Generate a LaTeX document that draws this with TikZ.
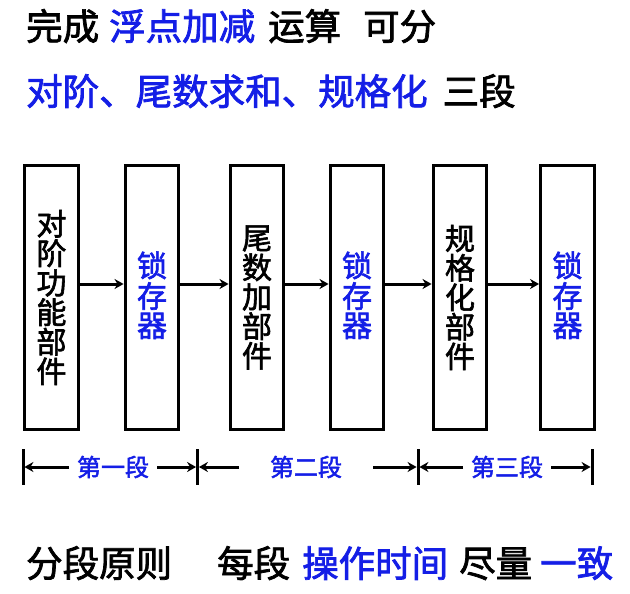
\documentclass[tikz,border=0pt]{standalone}
\usepackage{fontspec}
\setmainfont{Noto Sans CJK SC}[FakeBold=2]
\usetikzlibrary{arrows.meta}
\definecolor{pptblue}{RGB}{20,30,230}
\newcommand{\fs}[1]{\fontsize{#1}{#1}\selectfont}

\begin{document}
\begin{tikzpicture}
  [x=1pt,y=-1pt,
   unit/.style={draw,line width=3.4pt,minimum width=53.5pt,minimum height=263.5pt,
     inner sep=0pt,align=center,font=\fontsize{30}{29.5}\selectfont},
   latch/.style={unit,text=pptblue},
   flow/.style={-{Stealth[length=9pt,width=10pt]},line width=3pt},
   seg/.style={text=pptblue,font=\fs{24},inner ysep=0pt,inner xsep=8pt,outer sep=0pt},
   tick/.style={line width=3pt}]
  \useasboundingbox (0,0) rectangle (630,594);

  \node[anchor=base west,inner sep=0pt,font=\fs{36.5}] (l1) at (26,40)
    {完成\hspace{10pt}\textcolor{pptblue}{浮点加减}\hspace{13pt}运算\hspace{22pt}可分};
  \node[anchor=base west,inner sep=0pt,font=\fs{36.5}] (l2) at (26,105)
    {\textcolor{pptblue}{对阶、尾数求和、规格化}\hspace{15pt}三段};

  \node[unit] (b1) at (51.5,297.5) {对\\阶\\功\\能\\部\\件};
  \node[latch] (r1) at (152,297.5) {\raisebox{7pt}{\shortstack{锁\\存\\器}}};
  \node[unit] (b2) at (257,297.5) {尾\\数\\加\\部\\件};
  \node[latch] (r2) at (357,297.5) {\raisebox{7pt}{\shortstack{锁\\存\\器}}};
  \node[unit] (b3) at (460,297.5) {规\\格\\化\\部\\件};
  \node[latch] (r3) at (567.5,297.5) {\raisebox{7pt}{\shortstack{锁\\存\\器}}};
  \foreach \a/\b in {b1/r1,r1/b2,b2/r2,r2/b3,b3/r3}
    \draw[flow] ([yshift=13.5pt]\a.east) -- ([yshift=13.5pt]\b.west);

  % stages
  \coordinate (t0) at (23,467);
  \coordinate (t1) at (197.5,467);
  \coordinate (t2) at (418,467);
  \coordinate (t3) at (592,467);
  \foreach \t in {t0,t1,t2,t3}
    \draw[tick] ([yshift=18pt]\t) -- ([yshift=-18pt]\t);
  \node[seg] (s1) at (113,467) {第一段};
  \node[seg,inner xsep=31pt] (s2) at (306,467) {第二段};
  \node[seg] (s3) at (507,467) {第三段};
  \draw[flow,shorten >=1.4pt] (s1.west) -- (t0);
  \draw[flow,shorten >=1.4pt] (s1.east) -- (t1);
  \draw[flow,shorten >=1.4pt] (s2.west) -- (t1);
  \draw[flow,shorten >=1.4pt] (s2.east) -- (t2);
  \draw[flow,shorten >=1.4pt] (s3.west) -- (t2);
  \draw[flow,shorten >=1.4pt] (s3.east) -- (t3);

  \node[anchor=base west,inner sep=0pt,font=\fs{36.5}] (l3) at (26,577)
    {分段原则\hspace{45pt}每段\hspace{12pt}\textcolor{pptblue}{操作时间}\hspace{11pt}尽量\hspace{8pt}\textcolor{pptblue}{一致}};
\end{tikzpicture}
\end{document}
